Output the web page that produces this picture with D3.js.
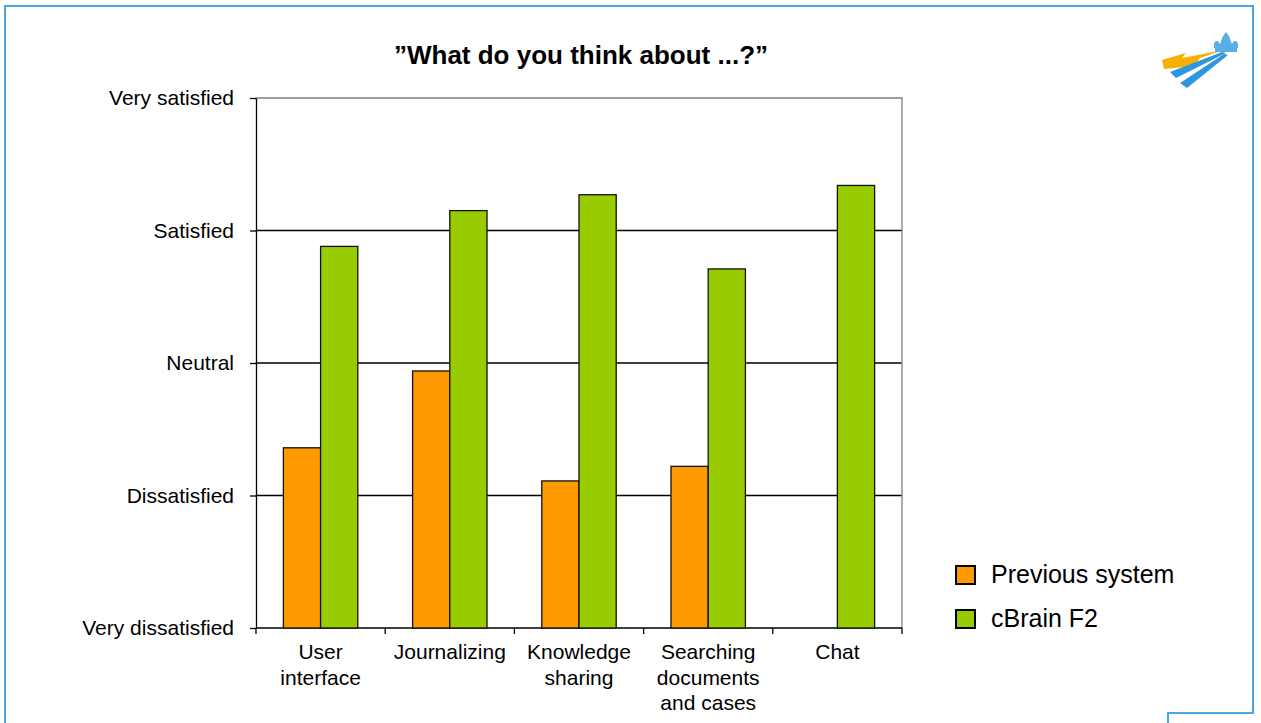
<!DOCTYPE html>
<html>
<head>
<meta charset="utf-8">
<script src="https://cdn.jsdelivr.net/npm/d3@7"></script>
<style>
  body { margin: 0; background: #fff; }
  svg { display: block; font-family: "Liberation Sans", Arial, sans-serif; }
</style>
</head>
<body>
<svg id="chart" width="1261" height="723"></svg>
<script>
// chart data
var categories = ["User\ninterface", "Journalizing", "Knowledge\nsharing", "Searching\ndocuments\nand cases", "Chat"];
var seriesNames = ["Previous system", "cBrain F2"];
var previousSystem = [2.36, 2.94, 2.11, 2.22, null];
var cbrainF2 = [3.88, 4.15, 4.27, 3.71, 4.34];
var levelValues = [1, 2, 3, 4, 5];
var levelLabels = ["Very dissatisfied", "Dissatisfied", "Neutral", "Satisfied", "Very satisfied"];
var colors = ["#FF9900", "#99CC00"];

function SatisfactionChart(svg){
    var self = this;
    self.svg = svg;
    self.init();
};

SatisfactionChart.prototype.init = function(){
    var self = this;
    self.left = 256;
    self.right = 902;
    self.top = 98;
    self.bottom = 628;

    self.x0 = d3.scaleBand()
    .domain(categories)
    .range([self.left, self.right]);

    self.x1 = d3.scaleBand()
    .domain(seriesNames)
    .range([0, self.x0.bandwidth()])
    .paddingOuter(0.736);

    self.y = d3.scaleLinear()
    .domain([1, 5])
    .range([self.bottom, self.top]);

    self.colorScale = d3.scaleOrdinal()
    .domain(seriesNames)
    .range(colors);
};

SatisfactionChart.prototype.drawFrame = function(){
    var self = this;
    // blue slide frame with the notch bottom right
    self.svg.append("path")
    .attr("d", "M5,723 L5,6 L1253,6 L1253,713 L1168,713 L1168,723")
    .attr("fill", "none")
    .attr("stroke", "#4DA6DF")
    .attr("stroke-width", 2);

    self.svg.append("text")
    .attr("x", 581)
    .attr("y", 64)
    .attr("text-anchor", "middle")
    .style("font-size", "26px")
    .style("font-weight", "bold")
    .text("\u201DWhat do you think about ...?\u201D");

    // little logo top right
    let logo = self.svg.append("g").attr("transform", "translate(1160,30)");
    logo.append("path")
    .attr("d", "M2,30 L26,23 L22,28 L64,20 L40,28 L34,36 L4,39 Z")
    .attr("fill", "#F5B000");
    logo.append("path")
    .attr("d", "M10,42 L62,22 L66,23 L16,48 Z")
    .attr("fill", "#2E96E0");
    logo.append("path")
    .attr("d", "M20,53 L64,24 L68,25 L27,58 Z")
    .attr("fill", "#2E96E0");
    logo.append("path")
    .attr("d", "M54,18 Q53,10 58,11 L60,14 L63,6 L66,2 L69,6 L72,14 L74,11 Q79,10 78,18 Z")
    .attr("fill", "#5AAEE6");
    logo.append("rect")
    .attr("x", 55).attr("y", 18).attr("width", 22).attr("height", 4)
    .attr("fill", "#5AAEE6");
};

SatisfactionChart.prototype.drawAxes = function(){
    var self = this;

    // grid lines between levels
    self.svg.selectAll(".grid")
    .data(levelValues.slice(1, 4))
    .join("line")
    .attr("class", "grid")
    .attr("x1", self.left)
    .attr("x2", self.right)
    .attr("y1", function(d){ return self.y(d); })
    .attr("y2", function(d){ return self.y(d); })
    .attr("stroke", "#000")
    .attr("stroke-width", 1.3);

    // grey plot border top and right
    self.svg.append("path")
    .attr("d", `M${self.left},${self.y(5)} L${self.right},${self.y(5)} L${self.right},${self.y(1)}`)
    .attr("fill", "none")
    .attr("stroke", "#808080")
    .attr("stroke-width", 1.3);

    let yAxis = d3.axisLeft(self.y)
    .tickValues(levelValues)
    .tickFormat(function(d, i){ return levelLabels[i]; })
    .tickSize(6)
    .tickSizeOuter(0)
    .tickPadding(16);

    let gy = self.svg.append("g")
    .attr("transform", `translate(${self.left},0)`)
    .call(yAxis);
    gy.selectAll("text").style("font-size", "21px").attr("fill", "#000");
    gy.selectAll("line, path").attr("stroke", "#000").attr("stroke-width", 1.3);

    // x axis line with ticks at category edges
    let edges = categories.map(function(c){ return self.x0(c); }).concat([self.right]);
    self.svg.append("line")
    .attr("x1", self.left).attr("x2", self.right)
    .attr("y1", self.bottom).attr("y2", self.bottom)
    .attr("stroke", "#000").attr("stroke-width", 1.3);
    self.svg.selectAll(".xtick")
    .data(edges)
    .join("line")
    .attr("class", "xtick")
    .attr("x1", function(d){ return d; })
    .attr("x2", function(d){ return d; })
    .attr("y1", self.bottom)
    .attr("y2", self.bottom + 6)
    .attr("stroke", "#000").attr("stroke-width", 1.3);

    let labels = self.svg.selectAll(".xlabel")
    .data(categories)
    .join("text")
    .attr("class", "xlabel")
    .attr("text-anchor", "middle")
    .style("font-size", "21px")
    .attr("transform", function(d){
        return `translate(${self.x0(d) + self.x0.bandwidth() / 2},659)`;
    });
    labels.selectAll("tspan")
    .data(function(d){ return d.split("\n"); })
    .join("tspan")
    .attr("x", 0)
    .attr("y", function(d, i){ return i * 25.5; })
    .text(function(d){ return d; });
};

SatisfactionChart.prototype.drawBars = function(){
    var self = this;
    let seriesValues = [previousSystem, cbrainF2];

    let groups = self.svg.selectAll(".category")
    .data(categories)
    .join("g")
    .attr("class", "category")
    .attr("transform", function(d){ return `translate(${self.x0(d)},0)`; });

    groups.selectAll(".bar")
    .data(function(d, i){
        return seriesNames.map(function(s, j){
            return {series: s, value: seriesValues[j][i]};
        }).filter(function(d){ return d.value != null; });
    })
    .join("rect")
    .attr("class", "bar")
    .attr("x", function(d){ return self.x1(d.series); })
    .attr("width", self.x1.bandwidth())
    .attr("y", function(d){ return self.y(d.value); })
    .attr("height", function(d){ return self.y(1) - self.y(d.value); })
    .attr("fill", function(d){ return self.colorScale(d.series); })
    .attr("stroke", "#111")
    .attr("stroke-width", 1.3);
};

SatisfactionChart.prototype.addLegend = function(){
    var self = this;
    let legend = self.svg.append("g")
    .attr("class", "legend")
    .attr("transform", "translate(956,566)");

    let items = legend.selectAll(".legend-item")
    .data(self.colorScale.domain())
    .join("g")
    .attr("class", "legend-item")
    .attr("transform", function(d, i){ return `translate(0,${i * 44})`; });

    items.append("rect")
    .attr("width", 19)
    .attr("height", 18)
    .attr("fill", self.colorScale)
    .attr("stroke", "#000")
    .attr("stroke-width", 2);

    items.append("text")
    .attr("x", 35)
    .attr("y", 17)
    .style("font-size", "25px")
    .text(function(d){ return d; });
};

var chart = new SatisfactionChart(d3.select("#chart"));
chart.drawFrame();
chart.drawAxes();
chart.drawBars();
chart.addLegend();
</script>
</body>
</html>
